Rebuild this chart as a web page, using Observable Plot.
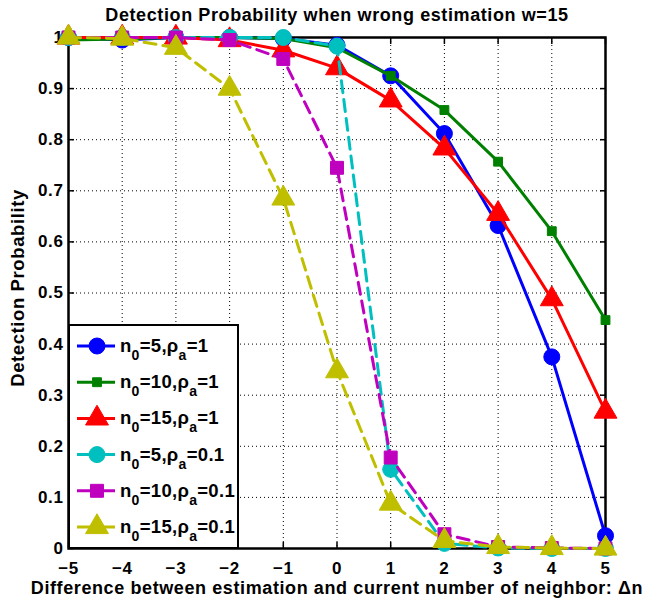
<!DOCTYPE html>
<html>
<head>
<meta charset="utf-8">
<script src="https://cdn.jsdelivr.net/npm/d3@7"></script>
<script src="https://cdn.jsdelivr.net/npm/@observablehq/plot@0.6"></script>
<style>
  html, body { margin: 0; padding: 0; background: #fff; }
  #chart svg { display: block; }
</style>
</head>
<body>
<div id="chart"></div>
<script>
// ---------- data ----------
const deltaN = [-5, -4, -3, -2, -1, 0, 1, 2, 3, 4, 5];
const p_n5_r1    = [1.000, 0.995, 1.000, 1.000, 0.998, 0.985, 0.925, 0.812, 0.632, 0.375, 0.025];
const p_n10_r1   = [0.995, 0.997, 1.000, 1.000, 0.998, 0.980, 0.925, 0.858, 0.757, 0.621, 0.447];
const p_n15_r1   = [1.000, 1.000, 1.000, 0.995, 0.975, 0.940, 0.877, 0.783, 0.655, 0.488, 0.268];
const p_n5_r01   = [1.000, 1.000, 1.000, 1.000, 1.000, 0.983, 0.155, 0.010, 0.001, 0.000, 0.000];
const p_n10_r01  = [1.000, 1.000, 1.000, 0.995, 0.958, 0.745, 0.178, 0.028, 0.003, 0.001, 0.000];
const p_n15_r01  = [1.000, 0.998, 0.980, 0.900, 0.685, 0.347, 0.088, 0.015, 0.003, 0.001, 0.000];

const seriesN0   = ["5", "10", "15", "5", "10", "15"];
const seriesRho  = ["1", "1", "1", "0.1", "0.1", "0.1"];
const seriesVals = [p_n5_r1, p_n10_r1, p_n15_r1, p_n5_r01, p_n10_r01, p_n15_r01];
const seriesColor = ["#0000ff", "#008000", "#ff0000", "#00bfbf", "#bf00bf", "#bfbf00"];
const seriesSymbol = ["circle", "square", "triangle", "circle", "square", "triangle"];
const seriesR = [8, 5, 8.5, 8, 7.3, 8.5];
const seriesDash = [null, null, null, "12,7", "12,7", "12,7"];

const xTicks = [-5, -4, -3, -2, -1, 0, 1, 2, 3, 4, 5];
const yTicks = [0, 0.1, 0.2, 0.3, 0.4, 0.5, 0.6, 0.7, 0.8, 0.9, 1];

const titleText = "Detection Probability when wrong estimation w=15";
const xLabel = "Difference between estimation and current number of neighbor: \u0394n";
const yLabel = "Detection Probability";

// ---------- build ----------
const seriesData = seriesVals.map((vals, i) =>
  deltaN.map((x, j) => ({x, y: vals[j], s: i})));

const marks = [
  Plot.gridX(xTicks.slice(1, -1), {stroke: "#000", strokeOpacity: 1, strokeWidth: 1, strokeDasharray: "1,3"}),
  Plot.gridY(yTicks.slice(1, -1), {stroke: "#000", strokeOpacity: 1, strokeWidth: 1, strokeDasharray: "1,3"}),
  Plot.axisX(xTicks, {anchor: "bottom", tickSize: -6, tickPadding: 19, strokeWidth: 1.5, label: null, fontSize: 17}),
  Plot.axisX(xTicks, {anchor: "top", tickSize: -6, strokeWidth: 1.5, label: null, text: null}),
  Plot.axisY(yTicks, {anchor: "left", tickSize: -6, tickPadding: 11, strokeWidth: 1.5, label: null, fontSize: 17,
    tickFormat: d => (d === 0 || d === 1) ? String(d) : d.toFixed(1)}),
  Plot.axisY(yTicks, {anchor: "right", tickSize: -6, strokeWidth: 1.5, label: null, text: null}),
  Plot.frame({stroke: "#000", strokeWidth: 2.5}),
];

seriesData.forEach((d, i) => {
  marks.push(Plot.line(d, {x: "x", y: "y", stroke: seriesColor[i], strokeWidth: 3,
    strokeDasharray: seriesDash[i] || undefined}));
  marks.push(Plot.dot(d, {x: "x", y: "y", symbol: seriesSymbol[i], r: seriesR[i],
    fill: seriesColor[i], stroke: seriesColor[i], strokeWidth: 1}));
});

marks.push(Plot.text([titleText], {frameAnchor: "top", lineAnchor: "middle", dy: -22, fontSize: 18, fontWeight: "bold"}));
marks.push(Plot.text([xLabel], {frameAnchor: "bottom", lineAnchor: "middle", dy: 40, fontSize: 18, fontWeight: "bold"}));
marks.push(Plot.text([yLabel], {frameAnchor: "left", dx: -50, dy: -5, rotate: -90, textAnchor: "middle", fontSize: 18.5, fontWeight: "bold"}));

const chart = Plot.plot({
  width: 662,
  height: 598,
  marginLeft: 68,
  marginRight: 57,
  marginTop: 37,
  marginBottom: 50,
  x: {domain: [-5, 5]},
  y: {domain: [0, 1]},
  style: {fontFamily: "'Liberation Sans', Arial, Helvetica, sans-serif", fontWeight: "bold", fontSize: "17px", color: "#000", background: "#fff", letterSpacing: "0.6px"},
  marks
});

document.getElementById("chart").appendChild(chart);

// ---------- legend ----------
const svg = d3.select(chart);
const lg = svg.append("g").attr("class", "legend");
const lx = 69, ly = 325, lw = 169, lh = 223;
lg.append("rect").attr("x", lx).attr("y", ly).attr("width", lw).attr("height", lh)
  .attr("fill", "#fff").attr("stroke", "#000").attr("stroke-width", 2);
const symMap = {circle: d3.symbolCircle, square: d3.symbolSquare, triangle: d3.symbolTriangle};
seriesN0.forEach((n0, i) => {
  const cy = 346 + i * 36.2;
  const g = lg.append("g");
  g.append("line").attr("x1", lx + 8).attr("x2", lx + 46).attr("y1", cy).attr("y2", cy)
    .attr("stroke", seriesColor[i]).attr("stroke-width", 3);
  g.append("path").attr("transform", `translate(${lx + 28},${cy})`)
    .attr("d", d3.symbol(symMap[seriesSymbol[i]], Math.PI * seriesR[i] * seriesR[i])())
    .attr("fill", seriesColor[i]).attr("stroke", seriesColor[i]);
  const t = g.append("text").attr("x", lx + 51).attr("y", cy + 6)
    .attr("text-anchor", "start")
    .attr("font-family", "'Liberation Sans', Arial, sans-serif").attr("font-weight", "bold")
    .attr("font-size", 18.5).attr("letter-spacing", "0.3px").attr("fill", "#000");
  t.append("tspan").text("n");
  t.append("tspan").attr("dy", 8).attr("font-size", 14).text("0");
  t.append("tspan").attr("dy", -8).text("=" + n0 + ",\u03c1");
  t.append("tspan").attr("dy", 8).attr("font-size", 14).text("a");
  t.append("tspan").attr("dy", -8).text("=" + seriesRho[i]);
});
</script>
</body>
</html>
